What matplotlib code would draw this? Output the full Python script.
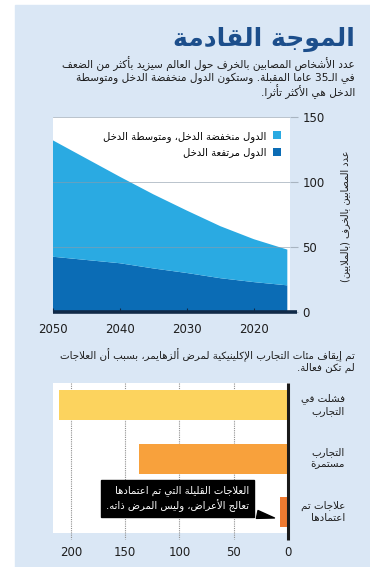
import re
import matplotlib
matplotlib.use("Agg")
import matplotlib.pyplot as plt
from matplotlib.patches import Patch, Rectangle

# ---- data -------------------------------------------------------------
title = "الموجة القادمة"
subtitle = [
    "عدد الأشخاص المصابين بالخرف حول العالم سيزيد بأكثر من الضعف",
    "في الـ35 عامًا المقبلة. وستكون الدول منخفضة الدخل ومتوسطة",
    "الدخل هي الأكثر تأثرًا.",
]
years = [2015, 2020, 2025, 2030, 2035, 2040, 2045, 2050]
high_income = [20.5, 23, 26, 30, 33.5, 37.5, 40, 42.5]
low_mid_income = [27.5, 33, 40, 48, 57, 66.5, 78, 89.5]
series_names = ["الدول منخفضة الدخل، ومتوسطة الدخل", "الدول مرتفعة الدخل"]
year_ticks = [2050, 2040, 2030, 2020]
count_ticks = [0, 50, 100, 150]
ylabel = "عدد المصابين بالخرف (بالملايين)"

subtitle2 = [
    "تم إيقاف مئات التجارب الإكلينيكية لمرض ألزهايمر، بسبب أن العلاجات",
    "لم تكن فعالة.",
]
trial_labels = [["فشلت في", "التجارب"], ["التجارب", "مستمرة"], ["علاجات تم", "اعتمادها"]]
trial_counts = [211, 137, 7]
trial_ticks = [200, 150, 100, 50, 0]
note = ["العلاجات القليلة التي تم اعتمادها", "تعالج الأعراض، وليس المرض ذاته."]

# ---- minimal arabic shaping (matplotlib has no complex text layout) ---
_AR = {
    0x0621: (0xFE80, 1), 0x0622: (0xFE81, 2), 0x0623: (0xFE83, 2), 0x0624: (0xFE85, 2),
    0x0625: (0xFE87, 2), 0x0626: (0xFE89, 4), 0x0627: (0xFE8D, 2), 0x0628: (0xFE8F, 4),
    0x0629: (0xFE93, 2), 0x062A: (0xFE95, 4), 0x062B: (0xFE99, 4), 0x062C: (0xFE9D, 4),
    0x062D: (0xFEA1, 4), 0x062E: (0xFEA5, 4), 0x062F: (0xFEA9, 2), 0x0630: (0xFEAB, 2),
    0x0631: (0xFEAD, 2), 0x0632: (0xFEAF, 2), 0x0633: (0xFEB1, 4), 0x0634: (0xFEB5, 4),
    0x0635: (0xFEB9, 4), 0x0636: (0xFEBD, 4), 0x0637: (0xFEC1, 4), 0x0638: (0xFEC5, 4),
    0x0639: (0xFEC9, 4), 0x063A: (0xFECD, 4), 0x0641: (0xFED1, 4), 0x0642: (0xFED5, 4),
    0x0643: (0xFED9, 4), 0x0644: (0xFEDD, 4), 0x0645: (0xFEE1, 4), 0x0646: (0xFEE5, 4),
    0x0647: (0xFEE9, 4), 0x0648: (0xFEED, 2), 0x0649: (0xFEEF, 2), 0x064A: (0xFEF1, 4),
}
_LAM_ALEF = {0x0622: 0xFEF5, 0x0623: 0xFEF7, 0x0625: 0xFEF9, 0x0627: 0xFEFB}
_MIRROR = str.maketrans("()", ")(")


def _dual(item):
    kind, v = item
    if kind == "LA":
        return False
    o = ord(v)
    return o == 0x0640 or (o in _AR and _AR[o][1] == 4)


def _joins(item):
    kind, v = item
    if kind == "LA":
        return True
    o = ord(v)
    return o == 0x0640 or (o in _AR and _AR[o][1] > 1)


def shape(text):
    chars = [c for c in text if not ("\u064B" <= c <= "\u0652")]
    items, i = [], 0
    while i < len(chars):
        c = chars[i]
        if c == "\u0644" and i + 1 < len(chars) and ord(chars[i + 1]) in _LAM_ALEF:
            items.append(("LA", ord(chars[i + 1])))
            i += 2
        else:
            items.append(("C", c))
            i += 1
    out = []
    for k, it in enumerate(items):
        jp = k > 0 and _dual(items[k - 1]) and _joins(it)
        jn = k + 1 < len(items) and _dual(it) and _joins(items[k + 1])
        kind, v = it
        if kind == "LA":
            out.append(chr(_LAM_ALEF[v] + (1 if jp else 0)))
            continue
        o = ord(v)
        if o in _AR:
            base, n = _AR[o]
            if n == 4:
                idx = 3 if (jp and jn) else 2 if jn else 1 if jp else 0
            elif n == 2:
                idx = 1 if jp else 0
            else:
                idx = 0
            out.append(chr(base + idx))
        else:
            out.append(v)
    s = "".join(out)
    runs = re.findall(r"[0-9A-Za-z]+|[^0-9A-Za-z]+", s)
    vis = []
    for r in reversed(runs):
        if r[0].isascii() and r[0].isalnum():
            vis.append(r)
        else:
            vis.append(r[::-1].translate(_MIRROR))
    return "".join(vis)


def lines(parts):
    return "\n".join(shape(p) for p in parts)


# ---- figure -----------------------------------------------------------
W, H = 370, 567
plt.rcParams["font.family"] = ["DejaVu Sans"]
fig = plt.figure(figsize=(W / 100, H / 100), dpi=100)
fig.patch.set_facecolor("white")
fig.add_artist(Rectangle((15 / W, 0), 1 - 15 / W, 1 - 5 / H,
                         transform=fig.transFigure, color="#dae7f5", zorder=-10))


def ftext(x, y, s, **kw):
    return fig.text(x / W, 1 - y / H, s, **kw)


def box(l, t, r, b):
    return [l / W, 1 - b / H, (r - l) / W, (b - t) / H]


dark_text = "#1e1e1e"
ftext(355, 39, shape(title), ha="right", va="center", fontsize=18,
      fontweight="bold", color="#1c4e8b")
ftext(355, 78, lines(subtitle), ha="right", va="center", fontsize=7.6,
      color=dark_text, linespacing=1.05, multialignment="right")

# top chart: stacked area
light_blue = "#2aaae2"
dark_blue = "#0b6cb5"
ax1 = fig.add_axes(box(53, 117, 290, 312))
ax1.set_facecolor("white")
ax1.stackplot(years, high_income, low_mid_income, colors=[dark_blue, light_blue], lw=0)
ax1.set_xlim(2050, 2014.6)
ax1.set_ylim(0, 150)
ax1.set_xticks(year_ticks)
ax1.set_yticks(count_ticks)
ax1.grid(axis="y", color="#8c9bab", lw=0.6, alpha=0.7)
ax1.set_axisbelow(False)
for sp in ax1.spines.values():
    sp.set_visible(False)
ax1.plot([2050, 2013.5], [0, 0], color="#102a48", lw=2.6, clip_on=False,
         solid_capstyle="butt", zorder=5)
ax1.tick_params(axis="y", left=False, labelleft=False, right=True, labelright=True,
                length=6, color="#a8b4c0", width=0.8, labelsize=8.5,
                labelcolor=dark_text, pad=3)
ax1.tick_params(axis="x", direction="in", length=3, color="#102a48",
                labelsize=8.5, labelcolor=dark_text, pad=8)
ax1.legend(handles=[Patch(facecolor=light_blue, label=shape(series_names[0])),
                    Patch(facecolor=dark_blue, label=shape(series_names[1]))],
           loc="upper right", bbox_to_anchor=(1.0, 0.975), frameon=False,
           markerfirst=False, fontsize=7.2, handlelength=0.85, handleheight=0.85,
           handletextpad=0.6, labelspacing=0.55)
ftext(345, 216, shape(ylabel), ha="center", va="center", rotation=90,
      fontsize=7, color=dark_text)

# bottom chart: horizontal bars
ftext(355, 361, lines(subtitle2), ha="right", va="center", fontsize=7.4,
      color=dark_text, linespacing=1.1, multialignment="right")
ax2 = fig.add_axes(box(53, 383, 290, 533))
ax2.set_facecolor("white")
bar_colors = ["#fcd35e", "#f8a13c", "#ef7a30"]
ypos = list(range(len(trial_counts)))
ax2.barh(ypos, trial_counts, height=0.56, color=bar_colors, zorder=2)
ax2.set_xlim(216.5, -1.8)
ax2.set_ylim(2.39, -0.41)
ax2.set_xticks(trial_ticks)
ax2.set_yticks([])
for sp in ax2.spines.values():
    sp.set_visible(False)
ax2.vlines(trial_ticks[:-1], -0.41, 2.5, colors="#8f8f8f", lw=0.8,
           linestyles=(0, (1, 1)), clip_on=False, zorder=1)
ax2.vlines([0], -0.41, 2.52, colors="#1a1a1a", lw=2.2, clip_on=False, zorder=4)
ax2.tick_params(axis="x", length=0, labelsize=8.5, labelcolor=dark_text, pad=9)
for y, lab in zip(ypos, trial_labels):
    ax2.text(1.232, y, lines(lab), transform=ax2.get_yaxis_transform(),
             ha="right", va="center", multialignment="right", fontsize=7.4,
             color=dark_text, linespacing=1.25)
ax2.annotate(lines(note), xy=(10, 2.12), xytext=(36, 1.74),
             ha="right", va="center", multialignment="right", fontsize=7.2,
             color="white", linespacing=1.3,
             bbox=dict(boxstyle="square,pad=0.5", fc="black", ec="black"),
             arrowprops=dict(arrowstyle="wedge,tail_width=0.8,shrink_factor=0.5",
                             fc="black", ec="black"),
             zorder=6)

fig.savefig("out.png", dpi=100)
